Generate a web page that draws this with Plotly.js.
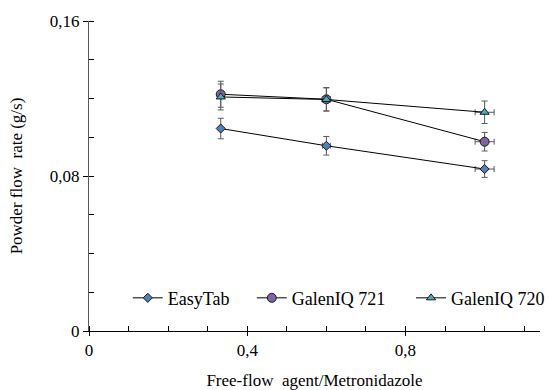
<!DOCTYPE html>
<html>
<head>
<meta charset="utf-8">
<script src="https://cdn.plot.ly/plotly-3.0.1.min.js"></script>
<style>html,body{margin:0;padding:0;background:#fff}#chart{width:550px;height:390px}</style>
</head>
<body>
<div id="chart"></div>
<script>
const ratio = [0.333, 0.6, 1.0];
const ratioErr = [0, 0.01, 0.024];
const easyTab = [0.1045, 0.0956, 0.0836];
const easyTabErr = [0.0053, 0.0048, 0.0043];
const galen721 = [0.1222, 0.1196, 0.0977];
const galen721Err = [0.0067, 0.006, 0.0048];
const galen720 = [0.1208, 0.1195, 0.1129];
const galen720Err = [0.0067, 0.006, 0.0058];
const seriesNames = ['EasyTab', 'GalenIQ 721', 'GalenIQ 720'];
const xTickVals = [0, 0.4, 0.8];
const xTickText = ['0', '0,4', '0,8'];
const yTickVals = [0, 0.08, 0.16];
const yTickText = ['0', '0,08', '0,16'];

const font = '"Liberation Serif"';
function mk(y, err, name, symbol, color, size, leg) {
  return {
    x: ratio, y: y, name: name, type: 'scatter', mode: 'lines+markers', legend: leg,
    line: {color: '#000', width: 1},
    marker: {symbol: symbol, color: color, size: size, line: {color: '#1a1a1a', width: 1}},
    error_y: {type: 'data', array: err, visible: true, color: '#595959', thickness: 1, width: 3},
    error_x: {type: 'data', array: ratioErr, visible: true, color: '#595959', thickness: 1, width: 3}
  };
}
const data = [
  mk(easyTab, easyTabErr, seriesNames[0], 'diamond', '#4F81BD', 7, 'legend'),
  mk(galen721, galen721Err, seriesNames[1], 'circle', '#8064A2', 9, 'legend2'),
  mk(galen720, galen720Err, seriesNames[2], 'triangle-up', '#4BACC6', 8, 'legend3')
];
function leg(x) {
  return {orientation: 'h', x: x, y: 0.106, xanchor: 'left', yanchor: 'middle',
          font: {family: font, size: 18}, bgcolor: 'rgba(0,0,0,0)', itemwidth: 30};
}
const layout = {
  width: 550, height: 390,
  margin: {l: 89, r: 10, t: 21, b: 59, autoexpand: false},
  paper_bgcolor: '#fff', plot_bgcolor: '#fff',
  font: {family: font, size: 17, color: '#000'},
  showlegend: true,
  legend: leg(0.086), legend2: leg(0.361), legend3: leg(0.714),
  xaxis: {
    range: [0, 1.14], showgrid: false, zeroline: false,
    showline: true, linecolor: '#000', linewidth: 1,
    tickvals: xTickVals, ticktext: xTickText, ticks: 'outside', ticklen: 4, tickcolor: '#000',
    minor: {dtick: 0.1, ticks: 'inside', ticklen: 5, tickcolor: '#000', showgrid: false},
    tickfont: {family: font, size: 17},
    title: {text: 'Free-flow  agent/Metronidazole', font: {family: font, size: 17}, standoff: 14}
  },
  yaxis: {
    range: [0, 0.16], showgrid: false, zeroline: false,
    showline: true, linecolor: '#595959', linewidth: 1,
    tickvals: yTickVals, ticktext: yTickText, ticks: 'outside', ticklen: 5, tickcolor: '#000',
    minor: {dtick: 0.02, ticks: 'inside', ticklen: 5, tickcolor: '#000', showgrid: false},
    tickfont: {family: font, size: 17},
    title: {text: 'Powder flow  rate (g/s)', font: {family: font, size: 17}, standoff: 22}
  }
};
Plotly.newPlot('chart', data, layout, {displayModeBar: false, staticPlot: true});
</script>
</body>
</html>
